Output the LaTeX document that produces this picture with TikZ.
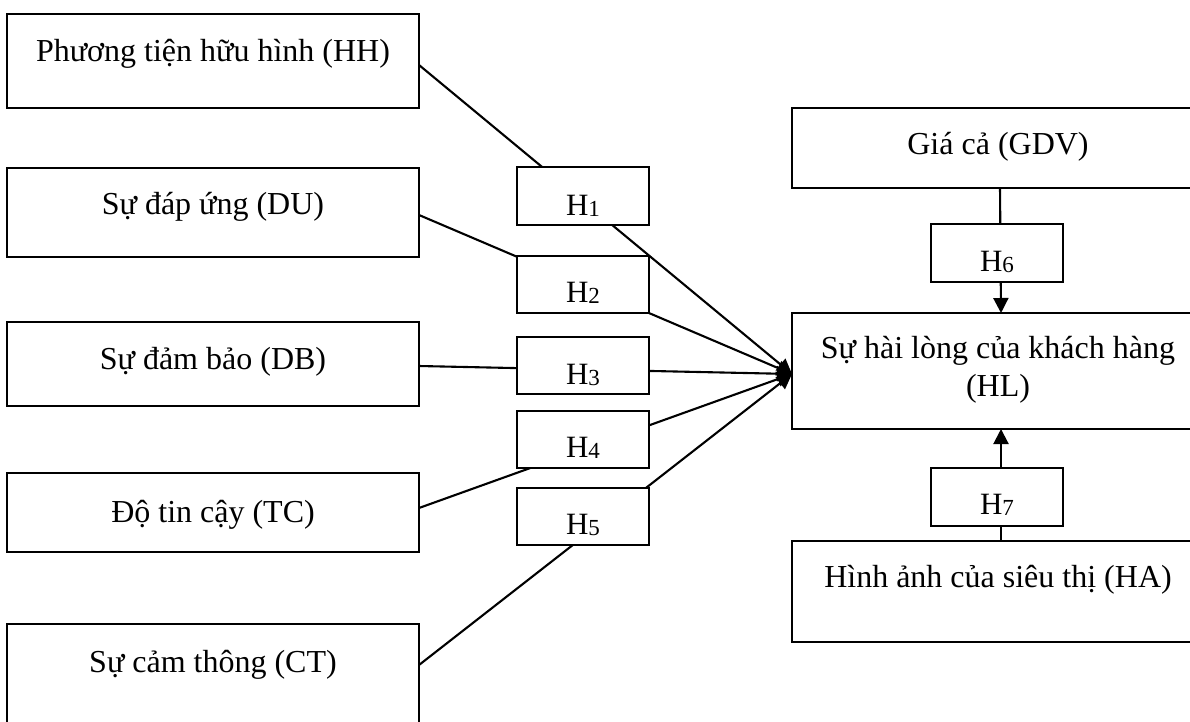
\documentclass[tikz,border=0pt]{standalone}
\usepackage{fontspec}
\setmainfont{Liberation Serif}
\usetikzlibrary{arrows.meta}
\newcommand\hlab[1]{H\raisebox{-1pt}{\fontsize{23}{23}\selectfont #1}}
\begin{document}
\begin{tikzpicture}[x=1pt,y=-1pt,
  box/.style={draw, line width=2.1pt, fill=white, inner sep=0pt, outer sep=0pt, anchor=north west},
  bigbox/.style={box, minimum width=412pt},
  hbox/.style={box, minimum width=132pt},
  lbl/.style={inner sep=0pt, anchor=base, font=\fontsize{32}{38}\selectfont},
  hlbl/.style={inner sep=0pt, anchor=base, font=\fontsize{31}{36}\selectfont},
  conn/.style={line width=2.1pt, -{Triangle[length=15pt,width=15pt]}}
]
\useasboundingbox (0,0) rectangle (1190,722);

% factor boxes (left)
\node[bigbox, minimum height=94pt]  (HH) at (7,14) {};
\node[bigbox, minimum height=89pt]  (DU) at (7,168) {};
\node[bigbox, minimum height=84pt]  (DB) at (7,322) {};
\node[bigbox, minimum height=79pt]  (TC) at (7,473) {};
\node[bigbox, minimum height=110pt] (CT) at (7,624) {};

% right boxes
\node[bigbox, minimum height=80pt]  (GDV) at (792,108) {};
\node[bigbox, minimum height=116pt] (HL)  at (792,313) {};
\node[bigbox, minimum height=101pt] (HA)  at (792,541) {};

% texts of the boxes
\node[lbl] (HHt) at ([yshift=-48pt]HH.north) {Phương tiện hữu hình (HH)};
\node[lbl] (DUt) at ([yshift=-46pt]DU.north) {Sự đáp ứng (DU)};
\node[lbl] (DBt) at ([yshift=-47pt]DB.north) {Sự đảm bảo (DB)};
\node[lbl] (TCt) at ([yshift=-49pt]TC.north) {Độ tin cậy (TC)};
\node[lbl] (CTt) at ([yshift=-48pt]CT.north) {Sự cảm thông (CT)};
\node[lbl] (GDVt) at ([yshift=-47pt]GDV.north) {Giá cả (GDV)};
\node[lbl] (HLt1) at ([yshift=-45pt]HL.north) {Sự hài lòng của khách hàng};
\node[lbl] (HLt2) at ([yshift=-83pt]HL.north) {(HL)};
\node[lbl] (HAt) at ([yshift=-46pt]HA.north) {Hình ảnh của siêu thị (HA)};

% convergence point on the left side of HL
\coordinate (T) at ([yshift=-3pt]HL.west);

% connectors
\draw[conn] ([yshift=-4pt]HH.east) -- (T);
\draw[conn] ([yshift=-2.5pt]DU.east) -- (T);
\draw[conn] ([yshift=-2pt]DB.east) -- (T);
\draw[conn] ([yshift=4.5pt]TC.east) -- (T);
\draw[conn] ([yshift=14pt]CT.east) -- (T);
\draw[conn] ([xshift=2pt]GDV.south) -- ([xshift=3pt]HL.north);
\draw[conn] ([xshift=3pt]HA.north) -- ([xshift=3pt]HL.south);

% hypothesis boxes (on top of connectors)
\node[hbox, minimum height=58pt] (H1) at (517,167) {};
\node[hbox, minimum height=57pt] (H2) at (517,256) {};
\node[hbox, minimum height=57pt] (H3) at (517,337) {};
\node[hbox, minimum height=57pt] (H4) at (517,411) {};
\node[hbox, minimum height=57pt] (H5) at (517,488) {};
\node[hbox, minimum height=58pt] (H6) at (931,224) {};
\node[hbox, minimum height=58pt] (H7) at (931,468) {};

\node[hlbl] (H1t) at ([yshift=-48pt]H1.north) {\hlab{1}};
\node[hlbl] (H2t) at ([yshift=-46pt]H2.north) {\hlab{2}};
\node[hlbl] (H3t) at ([yshift=-47pt]H3.north) {\hlab{3}};
\node[hlbl] (H4t) at ([yshift=-46pt]H4.north) {\hlab{4}};
\node[hlbl] (H5t) at ([yshift=-46pt]H5.north) {\hlab{5}};
\node[hlbl] (H6t) at ([yshift=-47pt]H6.north) {\hlab{6}};
\node[hlbl] (H7t) at ([yshift=-46pt]H7.north) {\hlab{7}};
\end{tikzpicture}
\end{document}
